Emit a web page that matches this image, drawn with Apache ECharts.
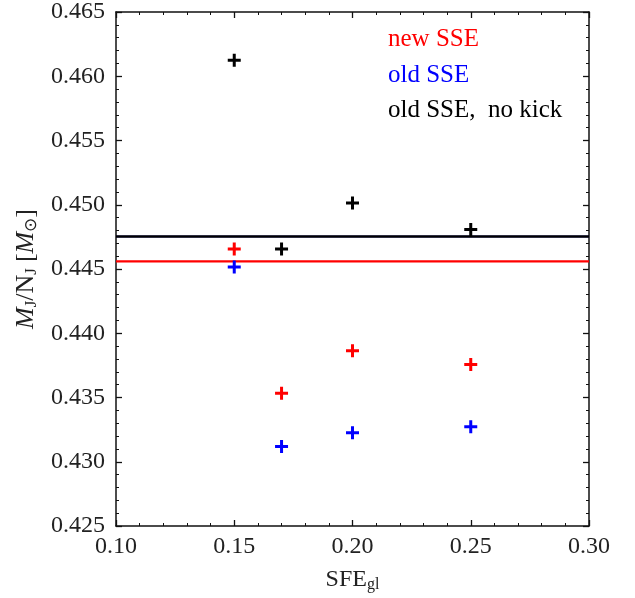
<!DOCTYPE html>
<html>
<head>
<meta charset="utf-8">
<script src="https://cdn.jsdelivr.net/npm/echarts@6/dist/echarts.min.js"></script>
<style>
html,body{margin:0;padding:0;background:#fff;}
#chart{width:635px;height:598px;}
</style>
</head>
<body>
<div id="chart"></div>
<script>
const sfe = [0.15, 0.17, 0.20, 0.25];
const newSSE = [0.44656, 0.43534, 0.43864, 0.43757];
const oldSSE = [0.44515, 0.43118, 0.43226, 0.43272];
const oldSSENoKick = [0.46125, 0.44656, 0.45013, 0.44807];
const meanNewSSE = 0.44560;
const meanOldSSENoKick = 0.44753;
const meanOldSSE = 0.44753;
const xTicks = [0.10, 0.15, 0.20, 0.25, 0.30];
const yTicks = [0.425, 0.430, 0.435, 0.440, 0.445, 0.450, 0.455, 0.460, 0.465];
const legendTexts = ['new SSE', 'old SSE', 'old SSE,  no kick'];
const colors = ['#ff0000', '#0000ff', '#000000'];

const FONT = 'Liberation Serif';
const plus = 'path://M5,0h3v5h5v3h-5v5h-3v-5h-5v-3h5z';

function pts(ys){ return sfe.map((x,i)=>[x, ys[i]]); }

const axisCommon = {
  axisLine: {show: true, lineStyle: {color: '#111', width: 1.5}},
  axisTick: {show: true, inside: true, length: 6, lineStyle: {color: '#111', width: 1.3}},
  minorTick: {show: true, splitNumber: 5, length: 3, lineStyle: {color: '#111', width: 1}},
  splitLine: {show: false}
};
const tickRich = {t: {fontFamily: FONT, fontSize: 24, color: '#222'}};

const chart = echarts.init(document.getElementById('chart'));
chart.setOption({
  animation: false,
  backgroundColor: '#fff',
  textStyle: {fontFamily: FONT},
  grid: {left: 116, right: 46, top: 7, bottom: 69},
  xAxis: [
    Object.assign({
      type: 'value', min: 0.10, max: 0.30, interval: 0.05, position: 'bottom',
      axisLabel: {color: '#222', fontFamily: FONT, fontSize: 24, margin: 9,
        formatter: v => '{t|' + v.toFixed(2) + '}', rich: tickRich},
      name: '{a|SFE}{s|gl}', nameLocation: 'middle', nameGap: 41,
      nameTextStyle: {fontFamily: FONT, rich: {
        a: {fontFamily: FONT, fontSize: 24, color: '#222'},
        s: {fontFamily: FONT, fontSize: 16, color: '#222', padding: [10,0,0,0]}
      }}
    }, axisCommon),
    Object.assign({
      type: 'value', min: 0.10, max: 0.30, interval: 0.05, position: 'top',
      axisLabel: {show: false}
    }, axisCommon)
  ],
  yAxis: [
    Object.assign({
      type: 'value', min: 0.425, max: 0.465, interval: 0.005, position: 'left',
      axisLabel: {color: '#222', fontFamily: FONT, fontSize: 24, margin: 11,
        formatter: v => '{t|' + v.toFixed(3) + '}', rich: tickRich},
      name: '{i|M}{s|J}{n|/N}{s|J}  {n|[}{i|M}{s|⊙}{n|]}', nameLocation: 'middle', nameGap: 60, nameRotate: 90,
      nameTextStyle: {fontFamily: FONT, rich: {
        i: {fontFamily: FONT, fontSize: 26, fontStyle: 'italic', color: '#222'},
        n: {fontFamily: FONT, fontSize: 26, color: '#222'},
        s: {fontFamily: FONT, fontSize: 17, color: '#222', padding: [11,0,0,0]}
      }}
    }, axisCommon),
    Object.assign({
      type: 'value', min: 0.425, max: 0.465, interval: 0.005, position: 'right',
      axisLabel: {show: false}
    }, axisCommon)
  ],
  series: [
    {type: 'scatter', name: legendTexts[0], data: pts(newSSE), symbol: plus, symbolSize: 13,
      itemStyle: {color: colors[0], opacity: 1}, z: 5},
    {type: 'scatter', name: legendTexts[1], data: pts(oldSSE), symbol: plus, symbolSize: 13,
      itemStyle: {color: colors[1], opacity: 1}, z: 5},
    {type: 'scatter', name: legendTexts[2], data: pts(oldSSENoKick), symbol: plus, symbolSize: 13,
      itemStyle: {color: colors[2], opacity: 1}, z: 5},
    {type: 'line', data: [[0.10, meanOldSSE], [0.30, meanOldSSE]], symbol: 'none',
      lineStyle: {color: colors[1], width: 3.2, opacity: 0.3}, z: 2},
    {type: 'line', data: [[0.10, meanOldSSENoKick], [0.30, meanOldSSENoKick]], symbol: 'none',
      lineStyle: {color: colors[2], width: 2.5}, z: 3},
    {type: 'line', data: [[0.10, meanNewSSE], [0.30, meanNewSSE]], symbol: 'none',
      lineStyle: {color: colors[0], width: 2.2}, z: 3}
  ],
  graphic: legendTexts.map((t, i) => ({
    type: 'text', left: 388, top: 27 + i * 35.5,
    style: {text: t, fill: colors[i], font: '25px "Liberation Serif"'}
  }))
});
</script>
</body>
</html>
